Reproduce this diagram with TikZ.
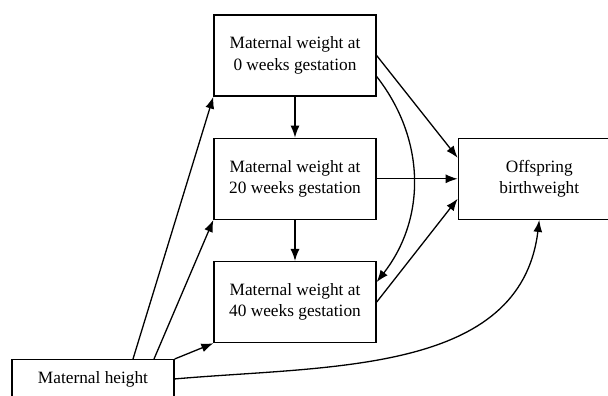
\documentclass[tikz,border=0pt]{standalone}
\usepackage{fontspec}
\setmainfont{Liberation Serif}
\usepackage{tikz}
\usetikzlibrary{arrows.meta, positioning}

\begin{document}
\begin{tikzpicture}[
            x=1pt, y=1pt,
            line width=1.3pt,
            node distance=41pt,
            >={Latex[length=12pt, width=9pt]},
            var/.style={rectangle, draw, align=center, minimum width=162pt, minimum height=81pt,
                font=\fontsize{17.3}{21.5}\selectfont}
        ]
        \useasboundingbox (0,0) rectangle (608,396);
        \clip (0,0) rectangle (608,396);

        \node[var] (wt0) at (295,340.5) {Maternal weight at\\0 weeks gestation};
        \node[var, below=of wt0] (wt20) {Maternal weight at\\20 weeks gestation};
        \node[var, below=of wt20] (wt40) {Maternal weight at\\40 weeks gestation};
        \node[var, right=81pt of wt20] (bw) {Offspring\\birthweight};
        \node[var, anchor=north, minimum height=0pt, inner ysep=12pt, text height=11.6pt, text depth=9pt]
            (ht) at (93,37) {Maternal height};

        % Weight over gestation
        \draw[->] (wt0) -- (wt20);
        \draw[->] (wt20) -- (wt40);
        \draw[->] ([yshift=-21pt]wt0.east) to[bend left=38] ([yshift=20pt]wt40.east);

        % Into birthweight
        \draw[->] (wt0.east) -- ([yshift=21pt]bw.west);
        \draw[->] (wt20.east) -- (bw.west);
        \draw[->] (wt40.east) -- ([yshift=-20pt]bw.west);

        % From height
        \draw[->] ([xshift=40pt]ht.north) -- (wt0.south west);
        \draw[->] ([xshift=61pt]ht.north) -- (wt20.south west);
        \draw[->] (ht.north east) -- (wt40.south west);
        \draw[->] ([yshift=3pt]ht.east) to[out=5, in=-97] (bw.south);
    \end{tikzpicture}
\end{document}
